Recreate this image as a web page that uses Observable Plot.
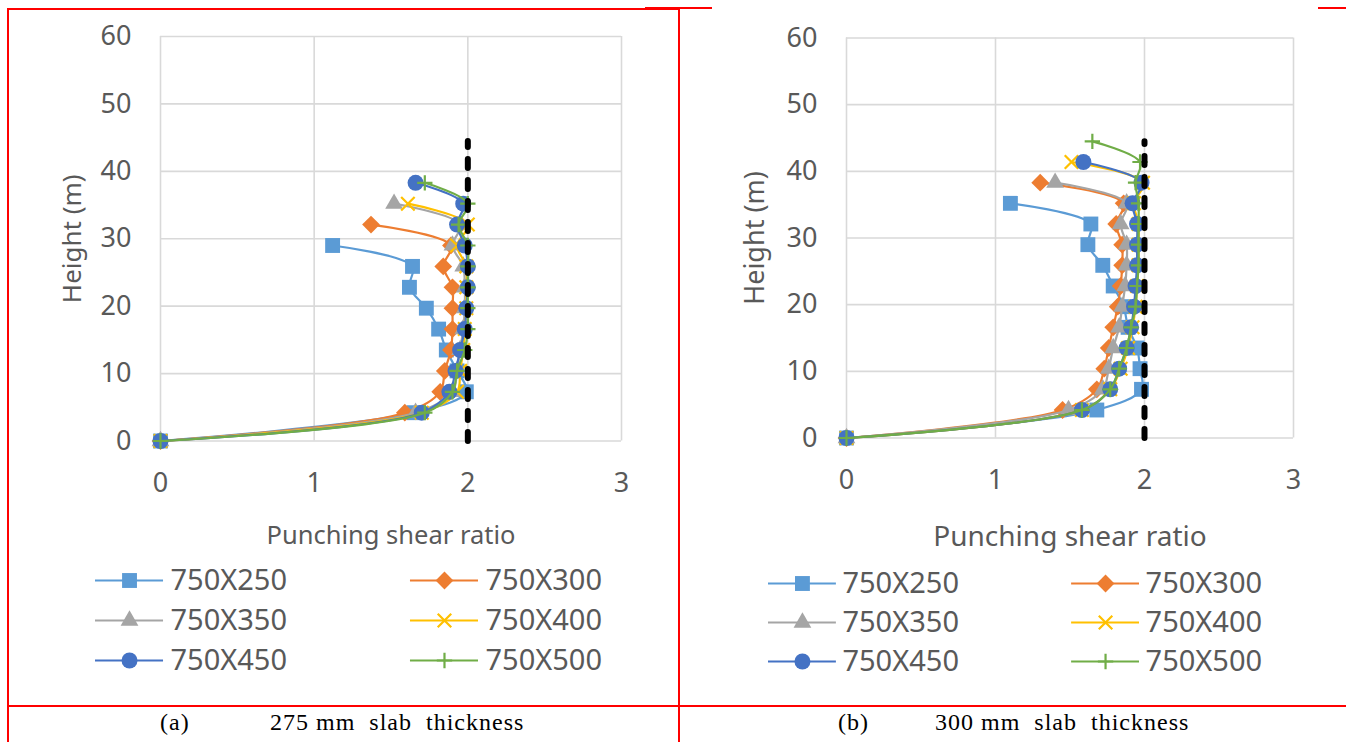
<!DOCTYPE html>
<html><head><meta charset="utf-8">
<script src="https://cdn.jsdelivr.net/npm/d3@7"></script>
<script src="https://cdn.jsdelivr.net/npm/@observablehq/plot@0.6"></script>
<style>
body{margin:0;background:#fff;width:1346px;height:742px;overflow:hidden;position:relative;font-family:"Noto Sans",sans-serif}
.abs{position:absolute}
.red{position:absolute;background:#ff0000}
.cap{position:absolute;top:707px;font-family:"Liberation Serif",serif;font-size:24px;white-space:pre;color:#000;line-height:30px;letter-spacing:1px}
</style></head><body>
<div id="chartA" class="abs" style="left:0;top:0"></div>
<div id="chartB" class="abs" style="left:679px;top:0"></div>
<div id="legA" class="abs" style="left:0;top:550px"></div>
<div id="legB" class="abs" style="left:679px;top:550px"></div>
<div class="red" style="left:7px;top:8px;width:2px;height:734px"></div>
<div class="red" style="left:678px;top:8px;width:2px;height:734px"></div>
<div class="red" style="left:7px;top:705px;width:1339px;height:2px"></div>
<div class="red" style="left:7px;top:8px;width:673px;height:1.5px"></div>
<div class="red" style="left:645px;top:7px;width:67px;height:2px"></div>
<div class="red" style="left:1318px;top:7px;width:28px;height:2px"></div>
<div class="cap" style="left:160px">(a)</div>
<div class="cap" style="left:270px">275 mm  slab  thickness</div>
<div class="cap" style="left:838px">(b)</div>
<div class="cap" style="left:935px">300 mm  slab  thickness</div>
<script>
// ---- data ----
const heights = [0, 4.2, 7.3, 10.4, 13.5, 16.6, 19.7, 22.8, 25.9, 29.0, 32.1, 35.2, 38.3, 41.4, 44.5];
const seriesNames = ["750X250", "750X300", "750X350", "750X400", "750X450", "750X500"];
// (a) 275 mm slab thickness: punching shear ratio per storey height
const a250 = [0, 1.65, 1.99, 1.93, 1.86, 1.81, 1.73, 1.62, 1.64, 1.12];
const a300 = [0, 1.59, 1.82, 1.85, 1.89, 1.90, 1.90, 1.90, 1.84, 1.89, 1.37];
const a350 = [0, 1.66, 1.90, 1.93, 1.95, 1.97, 1.98, 1.98, 1.97, 1.90, 1.95, 1.52];
const a400 = [0, 1.70, 1.93, 1.95, 1.97, 1.98, 1.99, 1.99, 1.99, 1.93, 2.00, 1.61];
const a450 = [0, 1.70, 1.88, 1.92, 1.95, 1.98, 1.99, 2.00, 2.00, 1.98, 1.93, 1.97, 1.66];
const a500 = [0, 1.72, 1.90, 1.93, 1.98, 2.00, 2.00, 2.00, 2.00, 2.00, 1.94, 2.00, 1.72];
// (b) 300 mm slab thickness
const b250 = [0, 1.68, 1.98, 1.97, 1.95, 1.89, 1.86, 1.79, 1.72, 1.62, 1.64, 1.10];
const b300 = [0, 1.45, 1.68, 1.73, 1.76, 1.79, 1.82, 1.84, 1.85, 1.85, 1.81, 1.86, 1.30];
const b350 = [0, 1.49, 1.72, 1.76, 1.79, 1.83, 1.85, 1.87, 1.88, 1.88, 1.84, 1.88, 1.40];
const b400 = [0, 1.58, 1.77, 1.84, 1.89, 1.92, 1.94, 1.95, 1.96, 1.96, 1.96, 1.93, 1.99, 1.51];
const b450 = [0, 1.58, 1.77, 1.83, 1.88, 1.91, 1.93, 1.94, 1.95, 1.95, 1.95, 1.92, 1.98, 1.59];
const b500 = [0, 1.58, 1.77, 1.83, 1.88, 1.91, 1.94, 1.95, 1.96, 1.96, 1.96, 1.96, 1.94, 1.97, 1.65];
// limit line (ratio = 2)
const limitRatio = [2, 2];
const limitHeight = [0, 44.5];
const xTicks = [0, 1, 2, 3];
const yTicks = [0, 10, 20, 30, 40, 50, 60];
const xTitle = "Punching shear ratio";
const yTitle = "Height (m)";

// ---- styles ----
const TXT = "#595959";
const styles = [
  {color: "#5B9BD5", symbol: d3.symbolSquare, r: 8.4, filled: true},
  {color: "#ED7D31", symbol: d3.symbolDiamond2, r: 8, filled: true},
  {color: "#A5A5A5", symbol: d3.symbolTriangle, r: 6.6, filled: true},
  {color: "#FFC000", symbol: d3.symbolTimes, r: 6.2, filled: false},
  {color: "#4472C4", symbol: d3.symbolCircle, r: 8, filled: true},
  {color: "#70AD47", symbol: d3.symbolPlus, r: 5, filled: false}
];

function toRows(arr) { return arr.map((v, i) => ({x: v, y: heights[i]})); }

function seriesMarks(allSeries) {
  const marks = [];
  allSeries.forEach((arr, k) => {
    const s = styles[k];
    const rows = toRows(arr);
    marks.push(Plot.line(rows, {x: "x", y: "y", stroke: s.color, strokeWidth: 2.2, curve: "catmull-rom"}));
    marks.push(Plot.dot(rows, s.filled
      ? {x: "x", y: "y", symbol: () => s.symbol, r: s.r, fill: s.color, stroke: "none"}
      : {x: "x", y: "y", symbol: () => s.symbol, r: s.r, stroke: s.color, strokeWidth: 2.2, fill: "none"}));
  });
  return marks;
}

function chart(allSeries, o) {
  const limit = limitRatio.map((v, i) => ({x: v, y: limitHeight[i]}));
  return Plot.plot({
    width: o.width, height: 560,
    marginLeft: o.ml, marginRight: o.mr, marginTop: o.mt, marginBottom: 560 - o.bottom,
    x: {domain: [0, 3]},
    y: {domain: [0, 60]},
    symbol: {type: "identity"},
    style: {fontFamily: "'Noto Sans', sans-serif", color: TXT, background: "transparent", overflow: "visible"},
    marks: [
      Plot.gridX(xTicks, {stroke: "#d9d9d9", strokeOpacity: 1, strokeWidth: 1.6}),
      Plot.gridY(yTicks, {stroke: "#d9d9d9", strokeOpacity: 1, strokeWidth: 1.6}),
      Plot.axisX(xTicks, {tickSize: 0, tickPadding: 32, fontSize: 27, label: null, fill: TXT, tickFormat: d3.format("d")}),
      Plot.axisY(yTicks, {tickSize: 0, tickPadding: 29, fontSize: 27, label: null, fill: TXT, tickFormat: d3.format("d")}),
      Plot.text([xTitle], {text: d => d, frameAnchor: "bottom", lineAnchor: "middle", textAnchor: "middle", dy: o.xtdy, fontSize: o.xtfs, fill: TXT}),
      Plot.text([yTitle], {text: d => d, frameAnchor: "left", lineAnchor: "middle", textAnchor: "middle", dx: o.ytdx, rotate: -90, fontSize: o.ytfs, fill: TXT}),
      ...seriesMarks(allSeries),
      Plot.line(limit, {x: "x", y: "y", stroke: "#000", strokeWidth: 6, strokeDasharray: "9 12", strokeLinecap: "round"})
    ]
  });
}

function legend(o) {
  const items = seriesNames.map((name, k) => ({name, k, col: k % 2, row: Math.floor(k / 2)}));
  const marks = [];
  items.forEach(it => {
    const s = styles[it.k];
    marks.push(Plot.tickY([it], {x: "col", y: "row", stroke: s.color, strokeWidth: 2.2}));
    marks.push(Plot.dot([it], s.filled
      ? {x: "col", y: "row", symbol: () => s.symbol, r: s.r, fill: s.color, stroke: "none"}
      : {x: "col", y: "row", symbol: () => s.symbol, r: s.r, stroke: s.color, strokeWidth: 2.2, fill: "none"}));
  });
  marks.push(Plot.text(items, {x: "col", y: "row", text: "name", textAnchor: "start", dx: o.tdx, fontSize: o.fs, fill: TXT}));
  return Plot.plot({
    width: o.width, height: 140, margin: 0,
    x: {type: "band", domain: [0, 1], range: o.xr, paddingInner: o.p, paddingOuter: 0, round: false, axis: null},
    y: {type: "point", domain: [0, 1, 2], range: o.yr, padding: 0, axis: null},
    symbol: {type: "identity"},
    style: {fontFamily: "'Noto Sans', sans-serif", color: TXT, background: "transparent", overflow: "visible"},
    marks
  });
}

document.getElementById("chartA").append(chart([a250, a300, a350, a400, a450, a500],
  {width: 679, ml: 160, mr: 58, mt: 36, bottom: 440.5, xtdy: 95, xtfs: 25.5, ytdx: -88, ytfs: 26}));
document.getElementById("chartB").append(chart([b250, b300, b350, b400, b450, b500],
  {width: 667, ml: 167, mr: 53, mt: 37.5, bottom: 437.5, xtdy: 99, xtfs: 28, ytdx: -91, ytfs: 27}));
document.getElementById("legA").append(legend({width: 679, xr: [95, 478], p: 0.784, yr: [30, 110], tdx: 41, fs: 29}));
document.getElementById("legB").append(legend({width: 667, xr: [89, 460], p: 0.776, yr: [33, 111], tdx: 40, fs: 29}));
</script>
</body></html>
